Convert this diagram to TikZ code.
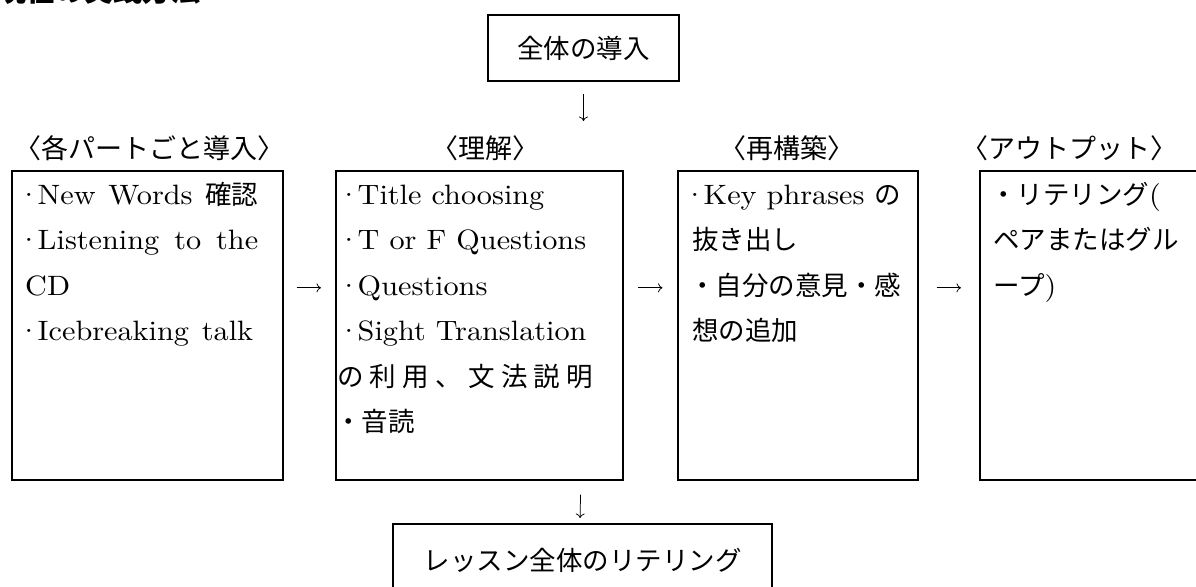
\documentclass[tikz,border=0pt]{standalone}
\usepackage{fontspec}
\setmainfont{lmroman10-regular}[Extension=.otf,FakeStretch=1.08]
\newfontfamily\jp{Noto Sans CJK JP}
\usetikzlibrary{arrows.meta}
\newcommand\jtxt[1]{{\jp\fontsize{26.5pt}{45pt}\selectfont #1}}
\newcommand\pdot{·\kern-3pt}
\tikzset{
  box/.style={draw, line width=1.6pt, rectangle, inner sep=0pt, anchor=north west},
  ln/.style={anchor=base west, inner sep=0pt, font=\fontsize{28pt}{45pt}\selectfont},
  hdr/.style={inner sep=0pt, font=\jp\fontsize{27pt}{30pt}\selectfont},
  arr/.style={line width=0.75pt, -{To[length=4.5pt,width=9pt]}},
}
\begin{document}
\begin{tikzpicture}[x=1pt,y=-1pt]
\useasboundingbox (0,0) rectangle (1196,586);
% title (cut at top)
\node[anchor=base west, inner sep=0pt, font=\jp\bfseries\fontsize{29pt}{32pt}\selectfont] (title) at (-3,2) {現在の実践方法};
% top box
\node[box, anchor=center, minimum width=191pt, minimum height=66pt, font=\jp\fontsize{26.5pt}{30pt}\selectfont] (top) at (583.5,48) {全体の導入};
\coordinate (d1) at (583.5,121);
\draw[arr, shorten <=12pt] (top) -- (d1);
% headers
\node[hdr] (h1) at (149,148) {〈各パートごと導入〉};
\node[hdr] (h2) at (485,148) {〈理解〉};
\node[hdr] (h3) at (787,148) {〈再構築〉};
\node[hdr] (h4) at (1069,148) {〈アウトプット〉};
% boxes
\node[box, minimum width=271pt, minimum height=309pt] (b1) at (11,170) {};
\node[box, minimum width=287pt, minimum height=309pt] (b2) at (335,170) {};
\node[box, minimum width=240pt, minimum height=309pt] (b3) at (677,170) {};
\node[box, minimum width=260pt, minimum height=309pt] (b4) at (979,170) {};
% box 1 text
\node[ln] (l11) at (17,204) {\makebox[241pt][s]{\pdot New Words \jtxt{確認}}};
\node[ln] (l12) at (17,249.5) {\makebox[241pt][s]{\pdot Listening to the}};
\node[ln] (l13) at (25,295) {CD};
\node[ln] (l14) at (17,340.5) {\makebox[236pt][s]{\pdot Icebreaking talk}};
% box 2 text
\node[ln] (l21) at (337,204) {\pdot Title choosing};
\node[ln] (l22) at (337,249.5) {\pdot T or F Questions};
\node[ln] (l23) at (337,295) {\pdot Questions};
\node[ln] (l24) at (337,340.5) {\pdot Sight Translation};
\node[ln] (l25) at (337,386) {\jtxt{\makebox[256pt][s]{の\hfil 利\hfil 用\hfil 、\hfil 文\hfil 法\hfil 説\hfil 明}}};
\node[ln] (l26) at (335,431.5) {\jtxt{・音読}};
% box 3 text
\node[ln] (l31) at (683,204) {\pdot Key phrases \jtxt{の}};
\node[ln] (l32) at (692,249.5) {\jtxt{抜き出し}};
\node[ln] (l33) at (689,295) {\jtxt{・自分の意見・感}};
\node[ln] (l34) at (692,340.5) {\jtxt{想の追加}};
% box 4 text
\node[ln] (l41) at (990,204) {\jtxt{・リテリング}(};
\node[ln] (l42) at (993,249.5) {\jtxt{ペアまたはグル}};
\node[ln] (l43) at (993,295) {\jtxt{ープ})};
% right arrows
\draw[arr, shorten <=13pt, shorten >=14pt] ([yshift=37.5pt]b1.east) -- ([yshift=37.5pt]b2.west);
\draw[arr, shorten <=14.5pt, shorten >=14.5pt] ([yshift=37.5pt]b2.east) -- ([yshift=37.5pt]b3.west);
\draw[arr, shorten <=18pt, shorten >=18pt] ([yshift=37.5pt]b3.east) -- ([yshift=37.5pt]b4.west);
% bottom box
\node[box, anchor=north, minimum width=379pt, minimum height=74pt, font=\jp\fontsize{26.5pt}{30pt}\selectfont] (bot) at (582.5,523) {レッスン全体のリテリング};
\draw[arr, shorten <=14pt, shorten >=5pt] ([xshift=101.5pt]b2.south) -- ([xshift=-2.5pt]bot.north);
\end{tikzpicture}
\end{document}
